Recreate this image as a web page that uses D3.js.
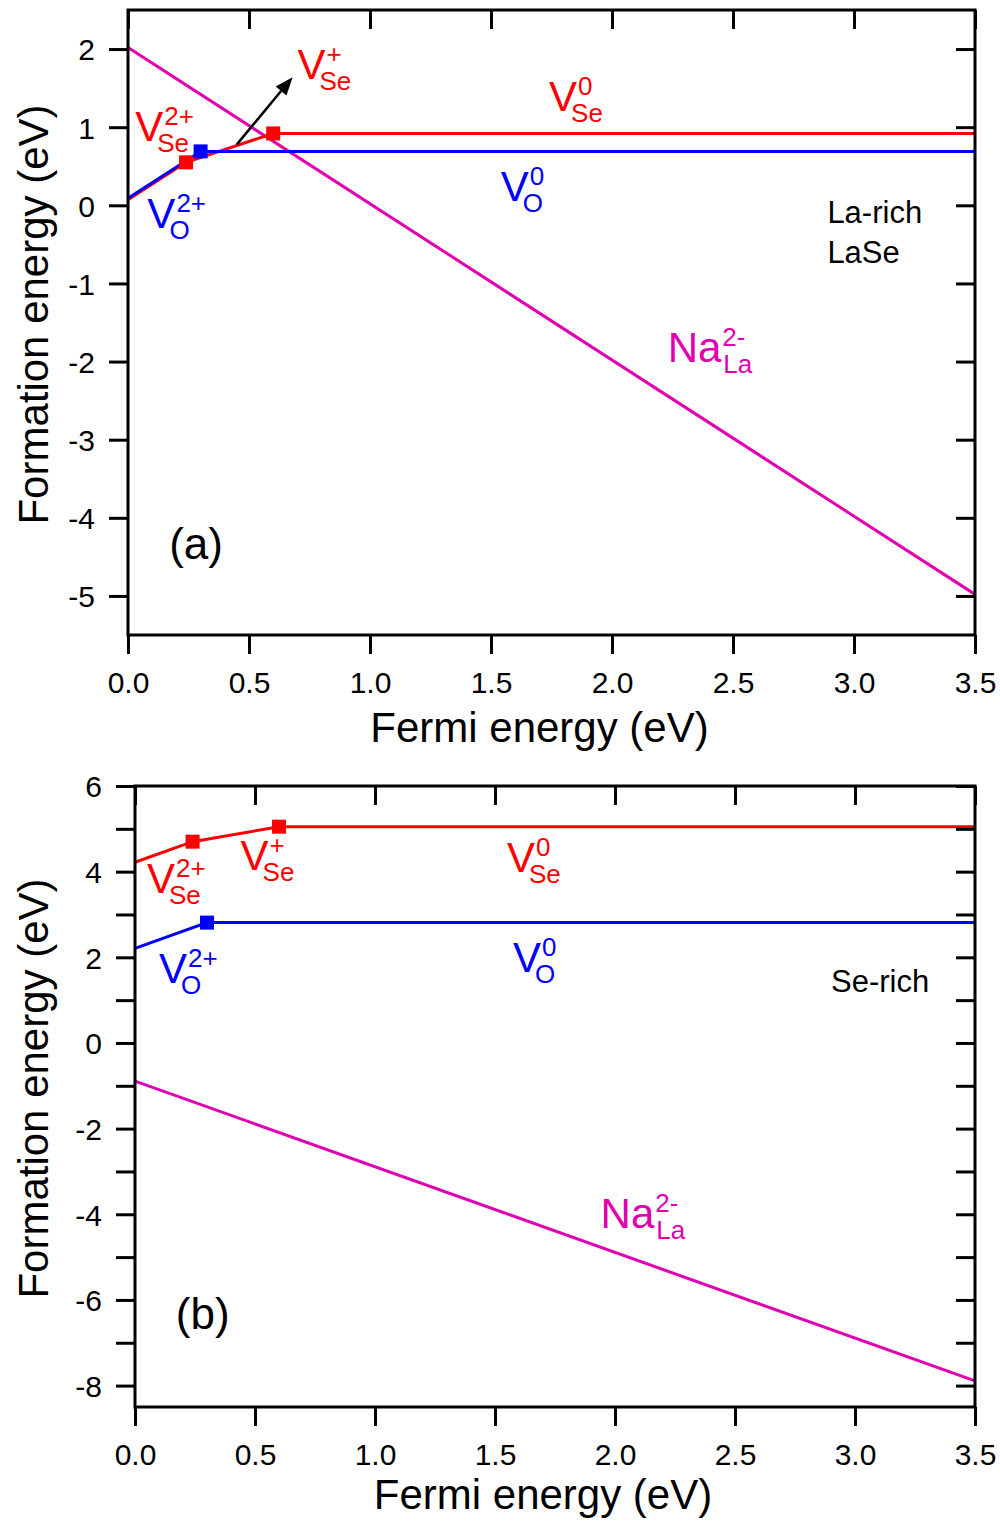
<!DOCTYPE html>
<html lang="en">
<head>
<meta charset="UTF-8">
<title>Formation energy</title>
<script src="https://cdnjs.cloudflare.com/ajax/libs/d3/7.8.5/d3.min.js"></script>
<style>
  body { margin: 0; background: #fff; }
  svg { display: block; font-family: "Liberation Sans", Arial, sans-serif; }
</style>
</head>
<body>
<div id="chart"></div>
<script>
// x axis (shared)
var fermiTicks = [0, 0.5, 1, 1.5, 2, 2.5, 3, 3.5];

// panel (a) La-rich LaSe
var fermiSeA = [0, 0.24, 0.60, 3.5];
var vSeA = [0.07, 0.55, 0.92, 0.92];
var fermiOA = [0, 0.30, 3.5];
var vOA = [0.09, 0.69, 0.69];
var fermiNaA = [0, 3.5];
var naA = [2.02, -4.98];
var yTicksA = [-5, -4, -3, -2, -1, 0, 1, 2];
var yLabelsA = [-5, -4, -3, -2, -1, 0, 1, 2];

// panel (b) Se-rich
var fermiSeB = [0, 0.24, 0.60, 3.5];
var vSeB = [4.22, 4.70, 5.05, 5.05];
var fermiOB = [0, 0.30, 3.5];
var vOB = [2.21, 2.81, 2.81];
var fermiNaB = [0, 3.5];
var naB = [-0.89, -7.89];
var yTicksB = [-8, -7, -6, -5, -4, -3, -2, -1, 0, 1, 2, 3, 4, 5, 6];
var yLabelsB = [-8, -6, -4, -2, 0, 2, 4, 6];

var RED = '#ff0000', BLUE = '#0000ff', MAG = '#e000b0';
var TICK = 19;

var svg = d3.select('#chart').append('svg')
    .attr('width', 1000)
    .attr('height', 1521);

var zip = function (xs, ys) {
    return xs.map(function (x, i) { return [x, ys[i]]; });
};

// V + stacked sup/sub label
var label = function (g, x, y, main, sup, sub, color, subShift) {
    var t = g.append('text')
        .attr('x', x).attr('y', y)
        .attr('fill', color)
        .style('font-size', '42px')
        .text(main);
    var w = t.node().getComputedTextLength();
    if (sup) {
        g.append('text')
            .attr('x', x + w + 1).attr('y', y - 16)
            .attr('fill', color)
            .style('font-size', '26px')
            .text(sup);
    }
    if (sub) {
        g.append('text')
            .attr('x', x + w + subShift).attr('y', y + 11)
            .attr('fill', color)
            .style('font-size', '26px')
            .text(sub);
    }
};

var drawPanel = function (p) {
    var x = d3.scaleLinear().domain([0, 3.5]).range([p.left, p.right]);
    var y = d3.scaleLinear().domain(p.yDomain).range([p.bottom, p.top]);
    var g = svg.append('g');

    var line = d3.line()
        .x(function (d) { return x(d[0]); })
        .y(function (d) { return y(d[1]); });

    // curves
    g.append('path').datum(zip(p.naX, p.na))
        .attr('d', line).attr('fill', 'none')
        .attr('stroke', MAG).attr('stroke-width', 3);
    g.append('path').datum(zip(p.seX, p.se))
        .attr('d', line).attr('fill', 'none')
        .attr('stroke', RED).attr('stroke-width', 3);
    g.append('path').datum(zip(p.oX, p.o))
        .attr('d', line).attr('fill', 'none')
        .attr('stroke', BLUE).attr('stroke-width', 3);

    // transition markers (interior points)
    var markers = function (pts, color) {
        g.selectAll(null).data(pts.slice(1, -1)).enter().append('rect')
            .attr('x', function (d) { return x(d[0]) - 7; })
            .attr('y', function (d) { return y(d[1]) - 7; })
            .attr('width', 14).attr('height', 14)
            .attr('fill', color);
    };
    markers(zip(p.seX, p.se), RED);
    markers(zip(p.oX, p.o), BLUE);

    // axes
    var xb = g.append('g').attr('transform', 'translate(0,' + p.bottom + ')')
        .call(d3.axisBottom(x).tickValues(fermiTicks).tickSize(TICK).tickPadding(18)
            .tickFormat(d3.format('.1f')));
    var xt = g.append('g').attr('transform', 'translate(0,' + p.top + ')')
        .call(d3.axisBottom(x).tickValues(fermiTicks).tickSize(TICK).tickFormat(''));
    var yl = g.append('g').attr('transform', 'translate(' + p.left + ',0)')
        .call(d3.axisLeft(y).tickValues(p.yTicks).tickSize(TICK).tickPadding(14)
            .tickFormat(function (d) { return p.yLabels.indexOf(d) >= 0 ? d : ''; }));
    var yr = g.append('g').attr('transform', 'translate(' + p.right + ',0)')
        .call(d3.axisLeft(y).tickValues(p.yTicks).tickSize(TICK).tickFormat(''));

    [xb, xt, yl, yr].forEach(function (a) {
        a.select('.domain').remove();
        a.selectAll('.tick line').attr('stroke', '#000').attr('stroke-width', 3);
        a.selectAll('.tick text')
            .attr('fill', '#000')
            .style('font-size', '30px')
            .style('font-family', '"Liberation Sans", Arial, sans-serif');
    });
    yl.selectAll('.tick text').attr('dy', '0.36em');

    // frame
    g.append('rect')
        .attr('x', p.left).attr('y', p.top)
        .attr('width', p.right - p.left).attr('height', p.bottom - p.top)
        .attr('fill', 'none').attr('stroke', '#000').attr('stroke-width', 3);

    // axis titles
    g.append('text')
        .attr('x', (p.left + p.right) / 2 - 12).attr('y', p.titleY)
        .attr('text-anchor', 'middle')
        .style('font-size', '42px')
        .text('Fermi energy (eV)');
    g.append('text')
        .attr('transform', 'translate(48,' + ((p.top + p.bottom) / 2 - 8) + ') rotate(-90)')
        .attr('text-anchor', 'middle')
        .style('font-size', '42px')
        .text('Formation energy (eV)');

    // annotations placed in data coordinates
    p.labels.forEach(function (l) {
        label(g, x(l.at[0]), y(l.at[1]), l.main, l.sup, l.sub, l.color, l.subShift);
    });
    p.notes.forEach(function (n) {
        g.append('text')
            .attr('x', x(n.at[0])).attr('y', y(n.at[1]))
            .style('font-size', n.size + 'px')
            .text(n.text);
    });

    if (p.arrow) {
        var a0 = [x(p.arrow[0][0]), y(p.arrow[0][1])];
        var a1 = [x(p.arrow[1][0]), y(p.arrow[1][1])];
        var ang = Math.atan2(a1[1] - a0[1], a1[0] - a0[0]);
        var hl = 18, hw = 7;
        var bx = a1[0] - hl * Math.cos(ang), by = a1[1] - hl * Math.sin(ang);
        g.append('line')
            .attr('x1', a0[0]).attr('y1', a0[1]).attr('x2', bx).attr('y2', by)
            .attr('stroke', '#000').attr('stroke-width', 2.5);
        g.append('path')
            .attr('d', 'M' + a1[0] + ',' + a1[1] +
                'L' + (bx + hw * Math.sin(ang)) + ',' + (by - hw * Math.cos(ang)) +
                'L' + (bx - hw * Math.sin(ang)) + ',' + (by + hw * Math.cos(ang)) + 'Z')
            .attr('fill', '#000');
    }
};

drawPanel({
    left: 128, right: 975, top: 10, bottom: 635, titleY: 742,
    yDomain: [-5.5, 2.5],
    yTicks: yTicksA, yLabels: yLabelsA,
    seX: fermiSeA, se: vSeA,
    oX: fermiOA, o: vOA,
    naX: fermiNaA, na: naA,
    arrow: [[0.45, 0.78], [0.68, 1.64]],
    labels: [
        { at: [0.70, 1.62], main: 'V', sup: '+', sub: 'Se', color: RED, subShift: -6 },
        { at: [1.74, 1.21], main: 'V', sup: '0', sub: 'Se', color: RED, subShift: -6 },
        { at: [0.03, 0.82], main: 'V', sup: '2+', sub: 'Se', color: RED, subShift: -6 },
        { at: [0.08, -0.29], main: 'V', sup: '2+', sub: 'O', color: BLUE, subShift: -6 },
        { at: [1.54, 0.06], main: 'V', sup: '0', sub: 'O', color: BLUE, subShift: -6 },
        { at: [2.23, -2.0], main: 'Na', sup: '2-', sub: 'La', color: MAG, subShift: 2 }
    ],
    notes: [
        { at: [2.89, -0.22], text: 'La-rich', size: 31 },
        { at: [2.89, -0.74], text: 'LaSe', size: 31 },
        { at: [0.17, -4.53], text: '(a)', size: 44 }
    ]
});

drawPanel({
    left: 135, right: 975, top: 786, bottom: 1407, titleY: 1509,
    yDomain: [-8.5, 6],
    yTicks: yTicksB, yLabels: yLabelsB,
    seX: fermiSeB, se: vSeB,
    oX: fermiOB, o: vOB,
    naX: fermiNaB, na: naB,
    arrow: null,
    labels: [
        { at: [0.05, 3.50], main: 'V', sup: '2+', sub: 'Se', color: RED, subShift: -6 },
        { at: [0.44, 4.03], main: 'V', sup: '+', sub: 'Se', color: RED, subShift: -6 },
        { at: [1.55, 3.99], main: 'V', sup: '0', sub: 'Se', color: RED, subShift: -6 },
        { at: [0.10, 1.40], main: 'V', sup: '2+', sub: 'O', color: BLUE, subShift: -6 },
        { at: [1.575, 1.65], main: 'V', sup: '0', sub: 'O', color: BLUE, subShift: -6 },
        { at: [1.94, -4.31], main: 'Na', sup: '2-', sub: 'La', color: MAG, subShift: 2 }
    ],
    notes: [
        { at: [2.90, 1.19], text: 'Se-rich', size: 31 },
        { at: [0.17, -6.69], text: '(b)', size: 44 }
    ]
});
</script>
</body>
</html>
